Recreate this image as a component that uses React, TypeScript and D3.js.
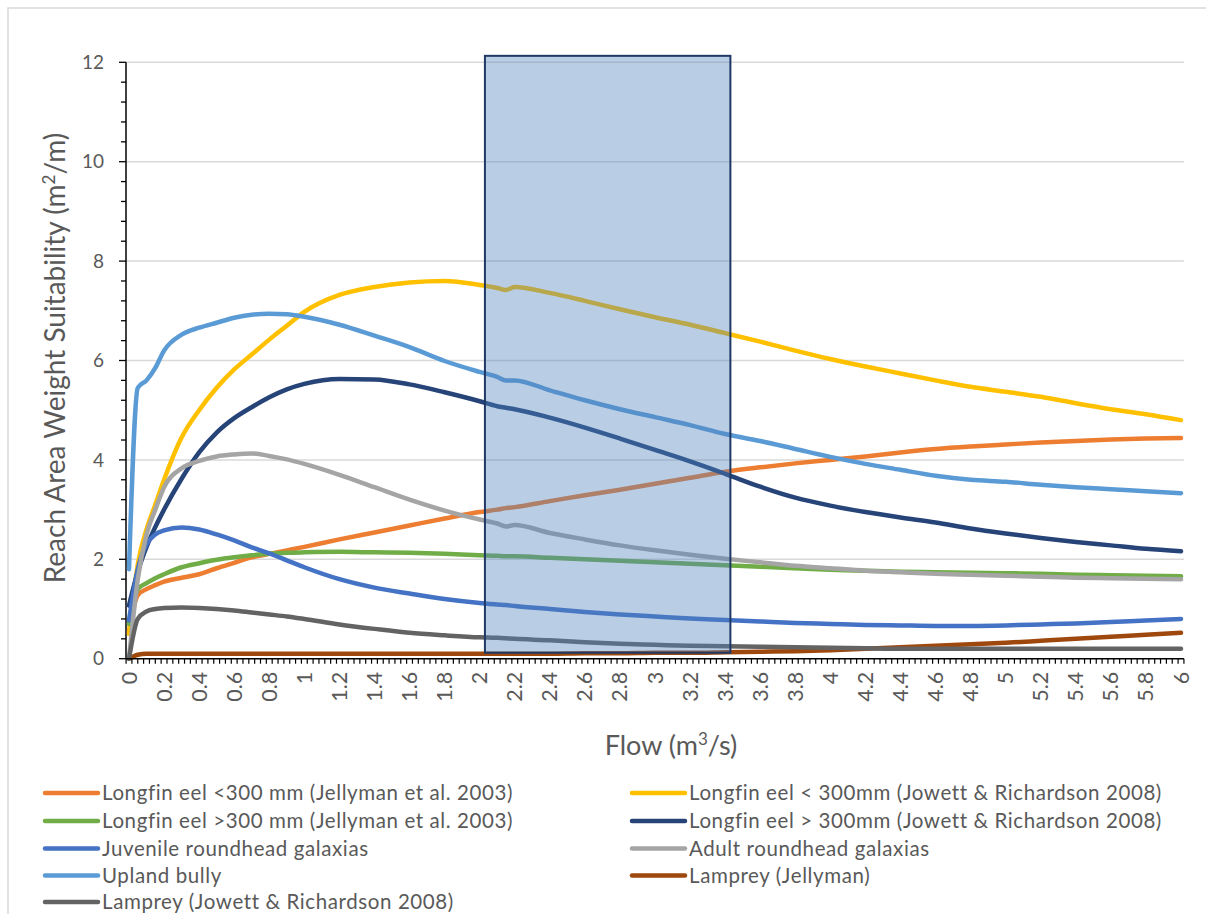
import React from "react";
import * as d3 from "d3";

const FLOWS = [0, 0.05, 0.1, 0.15, 0.2, 0.3, 0.4, 0.5, 0.6, 0.7, 0.8, 0.9, 1.0, 1.2, 1.4, 1.6, 1.8, 2.0, 2.1, 2.15, 2.2, 2.4, 2.6, 2.8, 3.0, 3.2, 3.4, 3.6, 3.8, 4.0, 4.2, 4.4, 4.6, 4.8, 5.0, 5.2, 5.4, 5.6, 5.8, 6.0];

const eelSmallJellyman = [0.55, 1.28, 1.4, 1.48, 1.55, 1.63, 1.7, 1.82, 1.93, 2.04, 2.11, 2.18, 2.25, 2.4, 2.54, 2.68, 2.82, 2.95, 3.0, 3.03, 3.05, 3.17, 3.29, 3.4, 3.52, 3.64, 3.76, 3.85, 3.93, 4.0, 4.07, 4.15, 4.22, 4.27, 4.31, 4.35, 4.38, 4.41, 4.43, 4.44];
const eelSmallJowett = [0.5, 1.9, 2.6, 3.1, 3.6, 4.45, 5.0, 5.45, 5.82, 6.12, 6.42, 6.7, 6.98, 7.32, 7.48, 7.57, 7.6, 7.52, 7.46, 7.42, 7.48, 7.36, 7.2, 7.03, 6.87, 6.72, 6.55, 6.38, 6.2, 6.03, 5.88, 5.74, 5.6, 5.47, 5.37, 5.27, 5.14, 5.02, 4.92, 4.8];
const eelLargeJellyman = [0.7, 1.4, 1.52, 1.62, 1.7, 1.84, 1.92, 1.99, 2.04, 2.08, 2.11, 2.13, 2.14, 2.15, 2.14, 2.13, 2.11, 2.08, 2.07, 2.06, 2.06, 2.03, 2.0, 1.97, 1.94, 1.91, 1.88, 1.85, 1.82, 1.79, 1.77, 1.75, 1.74, 1.73, 1.72, 1.71, 1.69, 1.68, 1.67, 1.66];
const eelLargeJowett = [1.07, 1.75, 2.25, 2.65, 3.0, 3.62, 4.15, 4.55, 4.84, 5.06, 5.26, 5.42, 5.53, 5.63, 5.62, 5.52, 5.36, 5.18, 5.08, 5.05, 5.02, 4.85, 4.65, 4.43, 4.2, 3.97, 3.72, 3.46, 3.24, 3.08, 2.95, 2.84, 2.74, 2.62, 2.52, 2.43, 2.35, 2.28, 2.21, 2.16];
const juvenileGalaxias = [0.77, 1.8, 2.3, 2.5, 2.58, 2.64, 2.6, 2.5, 2.38, 2.24, 2.12, 1.98, 1.84, 1.6, 1.43, 1.31, 1.2, 1.12, 1.09, 1.08, 1.06, 1.0, 0.94, 0.89, 0.85, 0.81, 0.78, 0.75, 0.72, 0.7, 0.68, 0.67, 0.66, 0.66, 0.67, 0.69, 0.71, 0.74, 0.77, 0.8];
const adultGalaxias = [0, 1.6, 2.5, 3.0, 3.45, 3.83, 3.98, 4.07, 4.11, 4.13, 4.08, 4.01, 3.92, 3.7, 3.45, 3.2, 2.98, 2.8, 2.72, 2.66, 2.69, 2.53, 2.4, 2.28, 2.18, 2.09, 2.01, 1.94, 1.87, 1.82, 1.77, 1.74, 1.71, 1.69, 1.67, 1.65, 1.63, 1.62, 1.61, 1.6];
const uplandBully = [1.8, 5.45, 5.6, 5.85, 6.2, 6.52, 6.66, 6.76, 6.86, 6.92, 6.94, 6.93, 6.88, 6.72, 6.5, 6.27, 5.99, 5.77, 5.67, 5.6, 5.6, 5.4, 5.2, 5.02, 4.86, 4.7, 4.52, 4.38, 4.22, 4.06, 3.92, 3.8, 3.68, 3.6, 3.56, 3.5, 3.45, 3.41, 3.37, 3.33];
const lampreyJellyman = [0, 0.08, 0.1, 0.1, 0.1, 0.1, 0.1, 0.1, 0.1, 0.1, 0.1, 0.1, 0.1, 0.1, 0.1, 0.1, 0.1, 0.1, 0.1, 0.1, 0.1, 0.1, 0.11, 0.11, 0.12, 0.12, 0.13, 0.14, 0.15, 0.17, 0.2, 0.23, 0.26, 0.29, 0.32, 0.36, 0.4, 0.44, 0.48, 0.52];
const lampreyJowett = [0, 0.8, 0.95, 1.0, 1.02, 1.03, 1.02, 1.0, 0.97, 0.93, 0.89, 0.85, 0.8, 0.69, 0.6, 0.52, 0.47, 0.43, 0.42, 0.41, 0.4, 0.37, 0.33, 0.3, 0.28, 0.26, 0.25, 0.24, 0.23, 0.22, 0.21, 0.2, 0.2, 0.2, 0.2, 0.2, 0.2, 0.2, 0.2, 0.2];

const SERIES_NAMES = [
  "Longfin eel <300 mm (Jellyman et al. 2003)",
  "Longfin eel < 300mm (Jowett & Richardson 2008)",
  "Longfin eel >300 mm (Jellyman et al. 2003)",
  "Longfin eel > 300mm (Jowett & Richardson 2008)",
  "Juvenile roundhead galaxias",
  "Adult roundhead galaxias",
  "Upland bully",
  "Lamprey (Jellyman)",
  "Lamprey (Jowett & Richardson 2008)",
];
const SERIES_VALUES = [eelSmallJellyman, eelSmallJowett, eelLargeJellyman, eelLargeJowett, juvenileGalaxias, adultGalaxias, uplandBully, lampreyJellyman, lampreyJowett];
const SERIES_COLORS = ["#ED7D31", "#FFC000", "#70AD47", "#264478", "#4472C4", "#A5A5A5", "#5B9BD5", "#9E480E", "#636363"];

const X_TICK_LABELS = d3.range(0, 31).map((i) => +(i * 0.2).toFixed(1));
const Y_TICKS = [0, 2, 4, 6, 8, 10, 12];
const BAND_FLOW = [2.03, 3.43];
const BAND_VALUE = [0.12, 12.13];

const FONT = "Lato, 'Open Sans', sans-serif";
const TXT = "#595959";

export default function App() {
  const x = d3.scaleLinear().domain([0, 6]).range([129, 1181]);
  const y = d3.scaleLinear().domain([0, 12]).range([658.7, 62.3]);
  const xAxisStart = x(-1 / 60);
  const xAxisEnd = x(6 + 1 / 60);
  const minorX = d3.range(0, 182).map((k) => (k - 0.5) / 30);
  const minorY = d3.range(0, 31).map((k) => k * 0.4);

  const line = d3
    .line<number>()
    .x((_, i) => x(FLOWS[i]))
    .y((d) => y(d))
    .curve(d3.curveMonotoneX);

  const legendCols = [45, 632];
  const legendRows = [793, 821, 848.5, 875.5, 902];

  return (
    <svg
      width={1206}
      height={914}
      style={{ position: "absolute", left: 0, top: 0, background: "#fff" }}
      fontFamily={FONT}
    >
      <rect x={8} y={8} width={1400} height={1000} fill="#fff" stroke="#D9D9D9" strokeWidth={1.5} />

      {/* gridlines */}
      {Y_TICKS.filter((t) => t > 0).map((t) => (
        <line key={t} x1={xAxisStart} x2={xAxisEnd} y1={y(t)} y2={y(t)} stroke="#D9D9D9" strokeWidth={1.5} />
      ))}

      {/* y axis */}
      <line x1={126} x2={126} y1={y(12)} y2={y(0)} stroke="#000" strokeWidth={1.5} />
      {minorY.map((t, i) => (
        <line key={"my" + i} x1={i % 5 === 0 ? 119 : 121} x2={126} y1={y(t)} y2={y(t)} stroke="#000" strokeWidth={1.3} />
      ))}
      {Y_TICKS.map((t) => (
        <text key={"yl" + t} x={104} y={y(t)} dy="0.35em" textAnchor="end" fontSize={19} fill={TXT}>
          {t}
        </text>
      ))}

      {/* series */}
      {SERIES_VALUES.map((vals, i) => (
        <path
          key={"s" + i}
          d={line(vals) || ""}
          fill="none"
          stroke={SERIES_COLORS[i]}
          strokeWidth={4.5}
          strokeLinecap="round"
          strokeLinejoin="round"
        />
      ))}

      {/* x axis */}
      <line x1={126} x2={xAxisEnd} y1={y(0)} y2={y(0)} stroke="#000" strokeWidth={1.5} />
      {minorX.map((f, i) => (
        <line key={"mx" + i} x1={x(f)} x2={x(f)} y1={y(0)} y2={y(0) + 5} stroke="#000" strokeWidth={1.2} />
      ))}
      {X_TICK_LABELS.map((t) => (
        <text
          key={"xl" + t}
          transform={`translate(${x(t)},${y(0) + 13}) rotate(-90)`}
          dy="0.35em"
          textAnchor="end"
          fontSize={21.5}
          fill={TXT}
        >
          {t}
        </text>
      ))}

      {/* highlighted flow band */}
      <rect
        x={x(BAND_FLOW[0])}
        y={y(BAND_VALUE[1])}
        width={x(BAND_FLOW[1]) - x(BAND_FLOW[0])}
        height={y(BAND_VALUE[0]) - y(BAND_VALUE[1])}
        fill="#4F81BD"
        fillOpacity={0.4}
        stroke="#1F3864"
        strokeWidth={2}
      />

      {/* axis titles */}
      <text x={671} y={746} dy="0.35em" textAnchor="middle" fontSize={27} fill={TXT}>
        Flow (m<tspan dy="-10" fontSize={17}>3</tspan>
        <tspan dy="10">/s)</tspan>
      </text>
      <text transform="translate(55,358) rotate(-90)" dy="0.35em" textAnchor="middle" fontSize={28} fill={TXT}>
        Reach Area Weight Suitability (m<tspan dy="-10" fontSize={17}>2</tspan>
        <tspan dy="10">/m)</tspan>
      </text>

      {/* legend */}
      {SERIES_NAMES.map((name, i) => {
        const col = i % 2;
        const row = Math.floor(i / 2);
        const lx = legendCols[col];
        const ly = legendRows[row];
        return (
          <g key={"lg" + i}>
            <line x1={lx} x2={lx + 53} y1={ly} y2={ly} stroke={SERIES_COLORS[i]} strokeWidth={4.5} strokeLinecap="round" />
            <text x={lx + 57} y={ly} dy="0.35em" fontSize={20.5} letterSpacing={0.6} fill={TXT}>
              {name}
            </text>
          </g>
        );
      })}
    </svg>
  );
}
